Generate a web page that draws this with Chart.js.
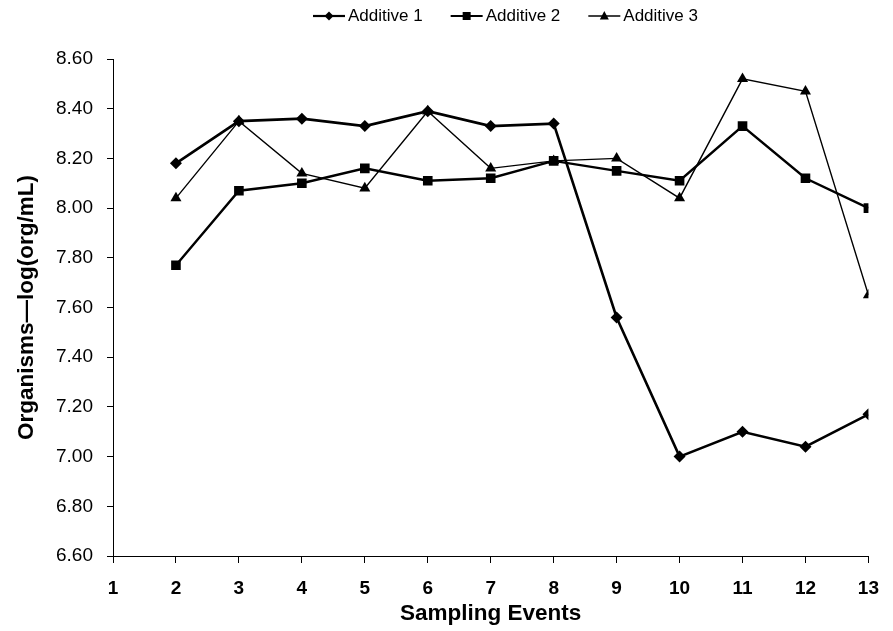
<!DOCTYPE html>
<html>
<head>
    <meta name="viewport" content="width=device-width, initial-scale=1">
    <title>Organisms by sampling event</title>
    <script src="https://cdn.jsdelivr.net/npm/chart.js"></script>
    <style>
        html, body { margin: 0; padding: 0; background: #fff; }
        #wrap { width: 893px; height: 631px; }
    </style>
</head>
<body>
    <div id="wrap"><canvas id="orgChart" width="893" height="631"></canvas></div>

    <script>
        // data
        const samplingEvents = [2, 3, 4, 5, 6, 7, 8, 9, 10, 11, 12, 13];
        const additive1 = [8.18, 8.35, 8.36, 8.33, 8.39, 8.33, 8.34, 7.56, 7.00, 7.10, 7.04, 7.17];
        const additive2 = [7.77, 8.07, 8.10, 8.16, 8.11, 8.12, 8.19, 8.15, 8.11, 8.33, 8.12, 8.00];
        const additive3 = [8.04, 8.35, 8.14, 8.08, 8.39, 8.16, 8.19, 8.20, 8.04, 8.52, 8.47, 7.65];
        const seriesNames = ['Additive 1', 'Additive 2', 'Additive 3'];
        const yTicks = { min: 6.6, max: 8.6, step: 0.2 };
        const xTicks = { min: 1, max: 13, step: 1 };

        function toPoints(values) {
            return values.map((v, i) => ({ x: samplingEvents[i], y: v }));
        }

        const pointStyles = ['rectRot', 'rect', 'triangle'];
        const lineWidths = [2.6, 2.4, 1.4];
        const pointSizes = [6, 6.8, 6.4];

        const allSeries = [additive1, additive2, additive3];
        const datasets = allSeries.map((vals, i) => ({
            label: seriesNames[i],
            data: toPoints(vals),
            borderColor: '#000',
            backgroundColor: '#000',
            borderWidth: lineWidths[i],
            pointStyle: pointStyles[i],
            pointRadius: pointSizes[i],
            pointBorderWidth: 0,
            tension: 0
        }));

        // legend drawn by hand: short line with the marker in the middle, then the name
        const lineLegend = {
            id: 'lineLegend',
            afterDraw(chart) {
                const ctx = chart.ctx;
                const y = 16;
                let x = 313;
                ctx.save();
                ctx.font = '17px "Liberation Sans", Arial, sans-serif';
                ctx.textBaseline = 'middle';
                ctx.fillStyle = '#000';
                ctx.strokeStyle = '#000';
                chart.data.datasets.forEach((ds, i) => {
                    ctx.lineWidth = i === 2 ? 1.4 : 2.2;
                    ctx.beginPath();
                    ctx.moveTo(x, y); ctx.lineTo(x + 32, y);
                    ctx.stroke();
                    const cx = x + 16;
                    ctx.beginPath();
                    if (ds.pointStyle === 'rectRot') {
                        ctx.moveTo(cx, y - 4.5); ctx.lineTo(cx + 4.5, y); ctx.lineTo(cx, y + 4.5); ctx.lineTo(cx - 4.5, y);
                    } else if (ds.pointStyle === 'rect') {
                        ctx.rect(cx - 4, y - 4, 8, 8);
                    } else {
                        ctx.moveTo(cx, y - 5); ctx.lineTo(cx + 4.5, y + 3.5); ctx.lineTo(cx - 4.5, y + 3.5);
                    }
                    ctx.closePath();
                    ctx.fill();
                    ctx.fillText(ds.label, x + 35, y);
                    x += 35 + ctx.measureText(ds.label).width + 28;
                });
                ctx.restore();
            }
        };

        new Chart(document.getElementById('orgChart'), {
            type: 'line',
            data: { datasets: datasets },
            plugins: [lineLegend],
            options: {
                responsive: false,
                animation: false,
                layout: { padding: { left: 0, right: 24, top: 59, bottom: 0 } },
                plugins: {
                    tooltip: { enabled: false },
                    legend: { display: false }
                },
                scales: {
                    x: {
                        type: 'linear',
                        min: xTicks.min,
                        max: xTicks.max,
                        afterFit: s => { s.height = 75; },
                        grid: { drawOnChartArea: false, drawTicks: true, tickLength: 7, color: '#000' },
                        border: { color: '#000', width: 1 },
                        ticks: {
                            stepSize: xTicks.step,
                            color: '#000',
                            padding: 14,
                            maxRotation: 0,
                            font: { family: 'Liberation Sans', size: 19, weight: 'bold' }
                        },
                        title: {
                            display: true,
                            text: 'Sampling Events',
                            color: '#000',
                            padding: { top: 0, bottom: 4 },
                            font: { family: 'Liberation Sans', size: 22.5, weight: 'bold' }
                        }
                    },
                    y: {
                        min: yTicks.min,
                        max: yTicks.max,
                        afterFit: s => { s.width = 113; },
                        grid: { drawOnChartArea: false, drawTicks: true, tickLength: 6, color: '#000' },
                        border: { color: '#000', width: 1 },
                        ticks: {
                            stepSize: yTicks.step,
                            color: '#000',
                            padding: 14,
                            font: { family: 'Liberation Sans', size: 19 },
                            callback: v => Number(v).toFixed(2)
                        },
                        title: {
                            display: true,
                            text: 'Organisms\u2014log(org/mL)',
                            color: '#000',
                            padding: { top: 13, bottom: 0 },
                            font: { family: 'Liberation Sans', size: 22.5, weight: 'bold' }
                        }
                    }
                }
            }
        });
    </script>
</body>
</html>
